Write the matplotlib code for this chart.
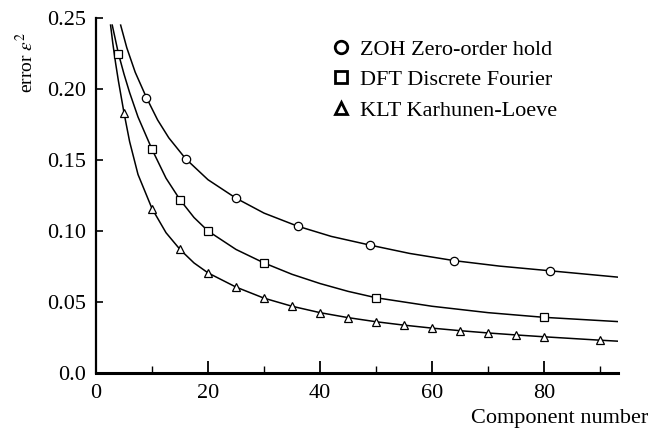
import matplotlib
matplotlib.use('Agg')
import matplotlib.pyplot as plt
from matplotlib.lines import Line2D

# marker points
zoh_x = [9, 16, 25, 36, 49, 64, 81]
zoh_y = [0.194, 0.1509, 0.1231, 0.1034, 0.090, 0.0791, 0.072]

dft_x = [4, 10, 15, 20, 30, 50, 80]
dft_y = [0.225, 0.1575, 0.122, 0.100, 0.0775, 0.053, 0.0392]

klt_x = [5, 10, 15, 20, 25, 30, 35, 40, 45, 50, 55, 60, 65, 70, 75, 80, 90]
klt_y = [0.1832, 0.1158, 0.087, 0.0705, 0.0605, 0.0527, 0.047, 0.0425, 0.039,
         0.0361, 0.0337, 0.0316, 0.0298, 0.0282, 0.0268, 0.0255, 0.0231]

# the drawn curves, read at more places
zoh_curve_x = [4.4, 5.5, 7.0, 9, 11, 13, 16, 20, 25, 30, 36, 42, 49, 56, 64, 72, 81, 93.2]
zoh_curve_y = [0.245, 0.229, 0.2118, 0.194, 0.1782, 0.1656, 0.1509, 0.1361, 0.1231, 0.1126,
               0.1034, 0.0962, 0.090, 0.0842, 0.0791, 0.0753, 0.072, 0.0675]

dft_curve_x = [2.9, 4, 5, 6, 7.5, 10, 12.5, 15, 17.5, 20, 25, 30, 35, 40, 45, 50, 60, 70, 80, 93.2]
dft_curve_y = [0.245, 0.225, 0.2105, 0.1975, 0.1803, 0.1575, 0.1372, 0.122, 0.1095, 0.100,
               0.087, 0.0775, 0.0695, 0.063, 0.0575, 0.053, 0.047, 0.0425, 0.0392, 0.0362]

klt_curve_x = [2.6, 3.0, 3.5, 4, 5, 6, 7.5, 10, 12.5, 15, 17.5, 20, 25, 30, 35, 40, 45,
               50, 55, 60, 65, 70, 75, 80, 85, 90, 93.2]
klt_curve_y = [0.245, 0.2322, 0.2182, 0.2057, 0.1832, 0.163, 0.1398, 0.1158, 0.0988, 0.087,
               0.0775, 0.0705, 0.0605, 0.0527, 0.047, 0.0425, 0.039, 0.0361, 0.0337, 0.0316,
               0.0298, 0.0282, 0.0268, 0.0255, 0.0243, 0.0231, 0.0224]

labels = ['ZOH Zero-order hold', 'DFT Discrete Fourier', 'KLT Karhunen-Loeve']
x_ticks = [0, 20, 40, 60, 80]
x_minor = [10, 30, 50, 70, 90]
y_ticks = [0.0, 0.05, 0.10, 0.15, 0.20, 0.25]
y_ticklabels = ['0.0', '0.05', '0.10', '0.15', '0.20', '0.25']

plt.rcParams['font.family'] = ['Liberation Serif', 'DejaVu Serif']
plt.rcParams['mathtext.fontset'] = 'stix'

fig = plt.figure(figsize=(6.51, 4.30), dpi=100)
ax = fig.add_axes([96/651, 57/430, (618-96)/651, (373-18)/430])

mk = dict(ls='none', ms=6, mfc='white', mec='black', mew=0.9, zorder=3, clip_on=False)
ax.plot(zoh_curve_x, zoh_curve_y, color='black', lw=1.1)
ax.plot(dft_curve_x, dft_curve_y, color='black', lw=1.1)
ax.plot(klt_curve_x, klt_curve_y, color='black', lw=1.1)
ax.plot(zoh_x, zoh_y, marker='o', **mk)
ax.plot(dft_x, dft_y, marker='s', **mk)
ax.plot(klt_x, klt_y, marker='^', **mk)

ax.set_xlim(0, 93.2)
ax.set_ylim(0, 0.25)
ax.set_xticks(x_ticks)
ax.set_xticks(x_minor, minor=True)
ax.set_yticks(y_ticks)
ax.set_yticklabels(y_ticklabels)

for s in ['top', 'right']:
    ax.spines[s].set_visible(False)
ax.spines['left'].set_linewidth(1.6)
ax.spines['bottom'].set_linewidth(2.2)

ax.tick_params(axis='x', which='major', direction='in', length=9, width=1.3, pad=8, labelsize=16)
ax.tick_params(axis='x', which='minor', direction='in', length=5, width=1.0)
ax.tick_params(axis='y', direction='in', length=5, width=1.2, pad=7, labelsize=16)

handles = [Line2D([], [], ls='none', marker=m, ms=9, mfc='white', mec='black', mew=2)
           for m in ['o', 's', '^']]
ax.legend(handles, labels, loc='upper left', bbox_to_anchor=(333/651, 1 - 39/430),
          bbox_transform=fig.transFigure, frameon=False, handlelength=0.75,
          handletextpad=0.45, labelspacing=0.45, fontsize=16, borderpad=0, borderaxespad=0)

fig.text(26/651, 1 - 62/430, 'error $\\varepsilon^2$', rotation=90, ha='center', va='center', fontsize=14)
fig.text(648/651, 7/430, 'Component number', ha='right', va='baseline', fontsize=16)

fig.savefig('out.png', dpi=100)
